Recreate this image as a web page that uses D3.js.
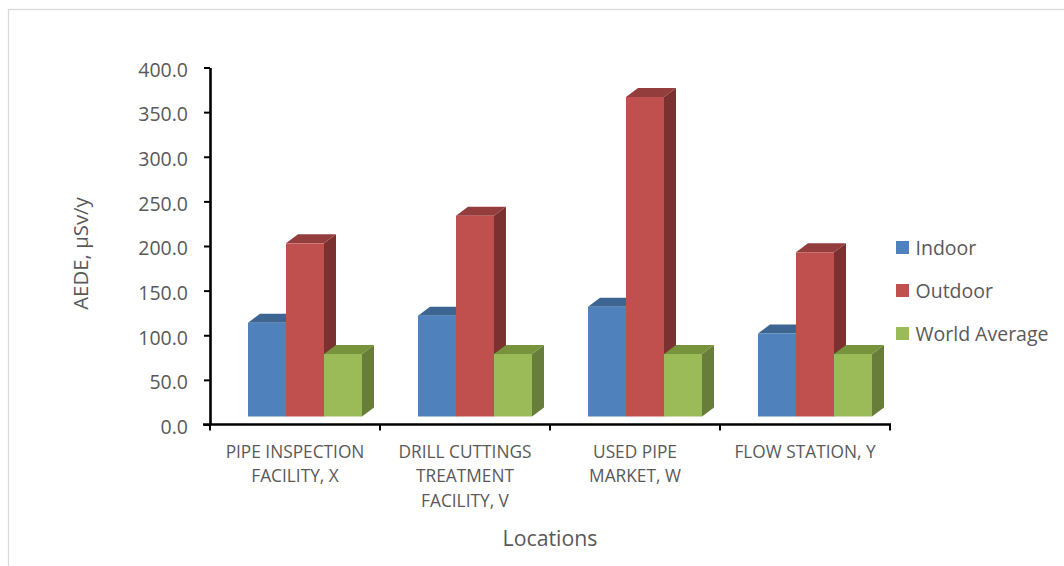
<!DOCTYPE html>
<html>
<head>
<meta charset="utf-8">
<script src="https://cdn.jsdelivr.net/npm/d3@7"></script>
<style>
  html, body { margin: 0; padding: 0; background: #fff; }
  svg { display: block; font-family: "Open Sans", sans-serif; }
</style>
</head>
<body>
<svg id="chart" width="1064" height="566"></svg>
<script>
// Annual effective dose equivalent by location
const locations = [
  ["PIPE INSPECTION", "FACILITY, X"],
  ["DRILL CUTTINGS", "TREATMENT", "FACILITY, V"],
  ["USED PIPE", "MARKET, W"],
  ["FLOW STATION, Y"]
];
const seriesNames = ["Indoor", "Outdoor", "World Average"];
const indoor = [105, 113, 123, 93];
const outdoor = [194, 225, 358, 184];
const worldAverage = [70, 70, 70, 70];
const yTicks = [0, 50, 100, 150, 200, 250, 300, 350, 400];

const seriesValues = [indoor, outdoor, worldAverage];
const frontColors = ["#4F81BD", "#C0504D", "#9BBB59"];
const topColors   = ["#3C6591", "#933E3C", "#77933C"];
const sideColors  = ["#34587F", "#7B3130", "#677D39"];

const svg = d3.select("#chart");
const textColor = "#595959";

// outer frame
svg.append("rect")
  .attr("x", 8.5).attr("y", 9.5)
  .attr("width", 1070).attr("height", 570)
  .attr("fill", "none").attr("stroke", "#d9d9d9").attr("stroke-width", 1.2);

const x0 = 210, x1 = 890;
const y = d3.scaleLinear().domain([0, 400]).range([424.5, 67.5]);
const xBand = d3.scaleBand().domain(d3.range(locations.length)).range([x0, x1]);
const xInner = d3.scaleBand().domain(d3.range(seriesNames.length)).range([38, 38 + 114]);

// 3D projection of the column depth
const depthX = 12, depthY = -9, floorLift = 8;

const bars = svg.append("g");
locations.forEach((loc, ci) => {
  seriesValues.forEach((vals, si) => {
    const v = vals[ci];
    const xl = xBand(ci) + xInner(si);
    const w = xInner.bandwidth();
    const yb = y(0) - floorLift;
    const yt = y(v) - floorLift;
    const g = bars.append("g");
    // side face
    g.append("path")
      .attr("d", `M${xl + w},${yt} L${xl + w + depthX},${yt + depthY} L${xl + w + depthX},${yb + depthY} L${xl + w},${yb} Z`)
      .attr("fill", sideColors[si]);
    // top face
    g.append("path")
      .attr("d", `M${xl},${yt} L${xl + depthX},${yt + depthY} L${xl + w + depthX},${yt + depthY} L${xl + w},${yt} Z`)
      .attr("fill", topColors[si]);
    // front face
    g.append("rect")
      .attr("x", xl).attr("y", yt)
      .attr("width", w).attr("height", yb - yt)
      .attr("fill", frontColors[si]);
  });
});

// y axis
const yAxis = d3.axisLeft(y)
  .tickValues(yTicks)
  .tickSize(6)
  .tickSizeOuter(0)
  .tickPadding(16)
  .tickFormat(d3.format(".1f"));
const yg = svg.append("g").attr("transform", `translate(${x0},0)`).call(yAxis);
yg.select(".domain").attr("stroke", "#000").attr("stroke-width", 2.6);
yg.selectAll(".tick line").attr("stroke", "#000").attr("stroke-width", 2);
yg.selectAll(".tick text")
  .attr("fill", textColor)
  .attr("font-family", "Open Sans, sans-serif")
  .attr("font-size", 19.5)
  .attr("dy", "0.45em");

// x axis with ticks at category boundaries
const xg = svg.append("g");
xg.append("line")
  .attr("x1", x0 - 7).attr("x2", x1 + 1)
  .attr("y1", y(0)).attr("y2", y(0))
  .attr("stroke", "#000").attr("stroke-width", 2.6);
const edges = locations.map((d, i) => xBand(i)).concat([x1]);
xg.selectAll("line.tk").data(edges).join("line")
  .attr("class", "tk")
  .attr("x1", d => d).attr("x2", d => d)
  .attr("y1", y(0)).attr("y2", y(0) + 6)
  .attr("stroke", "#000").attr("stroke-width", 2);

// category labels
locations.forEach((lines, ci) => {
  const t = svg.append("text")
    .attr("x", xBand(ci) + xBand.bandwidth() / 2)
    .attr("text-anchor", "middle")
    .attr("fill", textColor)
    .attr("font-size", 17.3);
  lines.forEach((ln, li) => {
    t.append("tspan")
      .attr("x", xBand(ci) + xBand.bandwidth() / 2)
      .attr("y", 451 + li * 24.5)
      .attr("dominant-baseline", "central")
      .text(ln);
  });
});

// axis titles
svg.append("text")
  .attr("x", 550).attr("y", 537)
  .attr("text-anchor", "middle")
  .attr("dominant-baseline", "central")
  .attr("fill", textColor)
  .attr("font-size", 21.3)
  .text("Locations");

svg.append("text")
  .attr("transform", "translate(80,253.5) rotate(-90)")
  .attr("text-anchor", "middle")
  .attr("dominant-baseline", "central")
  .attr("fill", textColor)
  .attr("font-size", 20.4)
  .text("AEDE, μSv/y");

// legend
const legend = svg.append("g");
seriesNames.forEach((name, i) => {
  const cy = 247.5 + i * 43;
  legend.append("rect")
    .attr("x", 896).attr("y", cy - 6.5)
    .attr("width", 13).attr("height", 13)
    .attr("fill", frontColors[i]);
  legend.append("text")
    .attr("x", 915.5).attr("y", cy)
    .attr("dominant-baseline", "central")
    .attr("fill", textColor)
    .attr("font-size", 19.5)
    .text(name);
});
</script>
</body>
</html>
